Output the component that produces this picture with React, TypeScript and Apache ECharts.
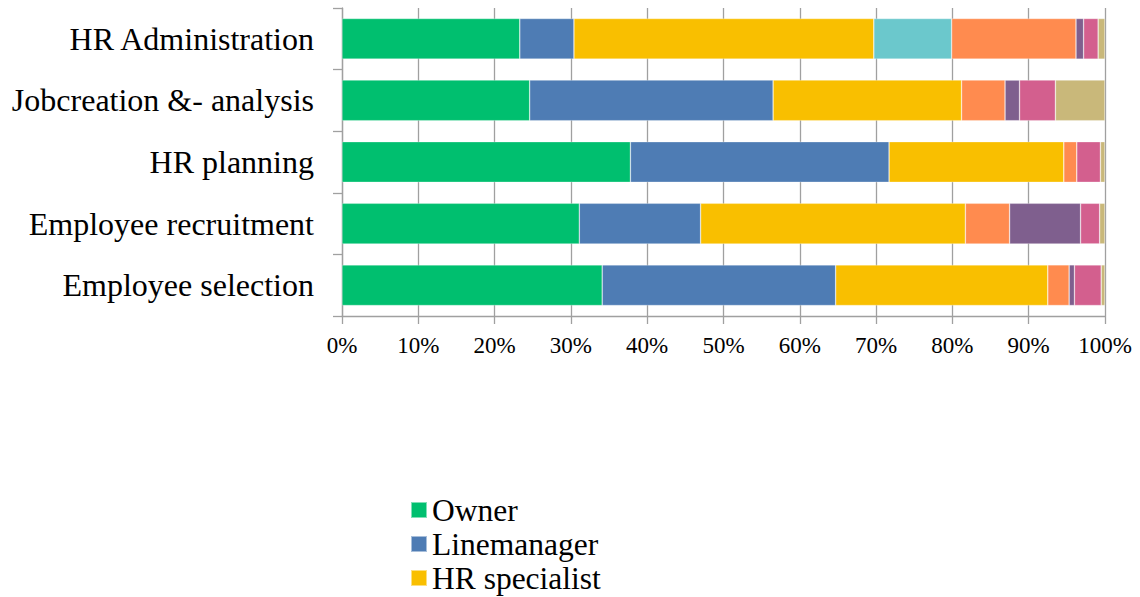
import React, { useEffect, useRef } from "react";
import * as echarts from "echarts";

const categories = [
  "HR Administration",
  "Jobcreation &- analysis",
  "HR planning",
  "Employee recruitment",
  "Employee selection",
];

const seriesNames = [
  "Owner",
  "Linemanager",
  "HR specialist",
  "Series 4",
  "Series 5",
  "Series 6",
  "Series 7",
  "Series 8",
];

const seriesColors = [
  "#00BF6F",
  "#4E7CB4",
  "#F9BF00",
  "#6BC8CC",
  "#FF8B4F",
  "#7F5F8E",
  "#D35F8E",
  "#C9B87A",
];

// values per series, in category order (top to bottom), percent
const owner = [23.3, 24.6, 37.8, 31.1, 34.1];
const linemanager = [7.1, 31.9, 33.9, 15.9, 30.6];
const hrSpecialist = [39.3, 24.7, 22.9, 34.7, 27.8];
const series4 = [10.2, null, null, null, null];
const series5 = [16.3, 5.7, 1.7, 5.8, 2.8];
const series6 = [1.0, 1.9, null, 9.3, 0.7];
const series7 = [1.9, 4.7, 3.1, 2.5, 3.5];
const series8 = [0.9, 6.5, 0.6, 0.7, 0.5];

const seriesValues = [owner, linemanager, hrSpecialist, series4, series5, series6, series7, series8];

const xTicks = { min: 0, max: 100, interval: 10 };
const legendItems = ["Owner", "Linemanager", "HR specialist"];

const FONT = "Liberation Serif";

export default function App() {
  const ref = useRef<HTMLDivElement>(null);

  useEffect(() => {
    if (!ref.current) return;
    const chart = echarts.init(ref.current, undefined, { renderer: "svg" });
    chart.setOption({
      animation: false,
      backgroundColor: "#ffffff",
      textStyle: { fontFamily: FONT, color: "#000" },
      grid: { left: 342, right: 35, top: 8, bottom: 281, containLabel: false },
      legend: {
        data: legendItems,
        orient: "vertical",
        left: 410,
        top: 494,
        height: 120,
        padding: 0,
        itemWidth: 16,
        itemHeight: 16,
        itemGap: 2,
        icon: "rect",
        textStyle: { fontFamily: FONT, fontSize: 31.5, color: "#000", lineHeight: 30 },
      },
      xAxis: {
        type: "value",
        min: xTicks.min,
        max: xTicks.max,
        interval: xTicks.interval,
        axisLine: { show: true, lineStyle: { color: "#A0A0A0", width: 1.3 } },
        axisTick: { show: true, length: 8, lineStyle: { color: "#A0A0A0", width: 1.3 } },
        splitLine: { show: true, lineStyle: { color: "#A0A0A0", width: 1.3 } },
        axisLabel: {
          formatter: "{value}%",
          fontFamily: FONT,
          fontSize: 23,
          color: "#000",
          margin: 18,
        },
      },
      yAxis: {
        type: "category",
        data: categories,
        inverse: true,
        axisLine: { show: true, lineStyle: { color: "#A0A0A0", width: 1.3 } },
        axisTick: { show: true, length: 9, alignWithLabel: false, lineStyle: { color: "#A0A0A0", width: 1.3 } },
        axisLabel: { fontFamily: FONT, fontSize: 32, color: "#000", margin: 28 },
        splitLine: { show: false },
      },
      series: seriesNames.map((name, i) => ({
        name,
        type: "bar",
        stack: "total",
        barCategoryGap: "34%",
        data: seriesValues[i].map((v) => (v === null ? "-" : v)),
        itemStyle: { color: seriesColors[i], borderColor: "rgba(255,255,255,0.5)", borderWidth: 0.6 },
        emphasis: { disabled: true },
      })),
    });
    return () => chart.dispose();
  }, []);

  return (
    <div
      ref={ref}
      style={{ position: "fixed", left: 0, top: 0, width: 1140, height: 597 }}
    />
  );
}
